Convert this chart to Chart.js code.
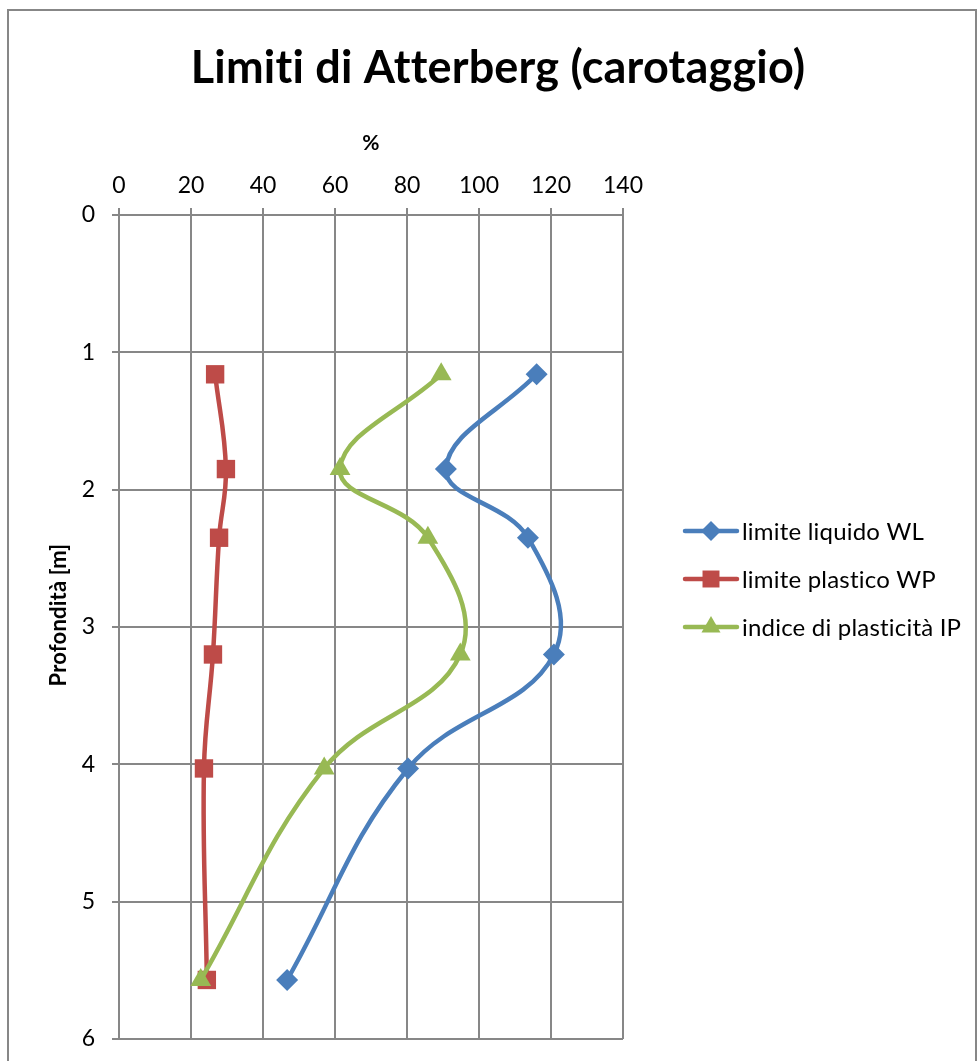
<!DOCTYPE html>
<html>
<head>
<meta charset="utf-8">
<script src="https://cdn.jsdelivr.net/npm/chart.js@4"></script>
<style>
  html, body { margin: 0; padding: 0; background: #fff; }
  #wrap { width: 978px; height: 1061px; position: relative; }
</style>
</head>
<body>
<div id="wrap"><canvas id="atterberg"></canvas></div>
<script>
'use strict';

// profondita dei campioni [m]
var depths = [1.16, 1.85, 2.35, 3.2, 4.03, 5.57];
// valori in %
var wl = [116, 90.8, 113.6, 120.8, 80.3, 46.7];
var wp = [26.7, 29.7, 27.8, 26.1, 23.6, 24.4];
var ip = [89.5, 61.4, 85.8, 94.8, 57.0, 22.7];

var seriesNames = ['limite liquido WL', 'limite plastico WP', 'indice di plasticità IP'];
var seriesColors = ['#4A7EBB', '#BE4B48', '#98B954'];
var seriesMarkers = ['rectRot', 'rect', 'triangle'];
var markerSizes = [11, 13, 12];

var xTicks = [0, 20, 40, 60, 80, 100, 120, 140];
var yTicks = [0, 1, 2, 3, 4, 5, 6];

var FONT = 'Lato, "Open Sans", sans-serif';
var GRID = '#878787';

function toPoints(vals) {
  return vals.map(function (v, i) { return { x: v, y: depths[i] }; });
}

var allSeries = [wl, wp, ip];
var datasets = allSeries.map(function (vals, i) {
  return {
    label: seriesNames[i],
    data: toPoints(vals),
    showLine: true,
    tension: 0.4,
    borderColor: seriesColors[i],
    backgroundColor: seriesColors[i],
    borderWidth: 4.5,
    pointStyle: seriesMarkers[i],
    pointRadius: markerSizes[i],
    pointBorderWidth: 0,
    order: 3 - i
  };
});

// titoli e legenda disegnati a mano, come in Excel
var extras = {
  id: 'extras',
  afterDraw: function (chart) {
    var ctx = chart.ctx;
    var area = chart.chartArea;
    ctx.save();
    // bordo esterno
    ctx.strokeStyle = GRID;
    ctx.lineWidth = 2;
    ctx.strokeRect(8, 10, 968, 1060);

    // niente legature (ti, tt) come in Calibri
    ctx.letterSpacing = '0.2px';
    ctx.fillStyle = '#000';
    ctx.textAlign = 'center';
    ctx.textBaseline = 'alphabetic';
    ctx.font = 'bold 45px ' + FONT;
    ctx.fillText('Limiti di Atterberg (carotaggio)', 498, 83);

    ctx.textBaseline = 'middle';
    ctx.font = 'bold 21px ' + FONT;
    ctx.fillText('%', (area.left + area.right) / 2, 143);

    ctx.save();
    ctx.translate(59, 615);
    ctx.rotate(-Math.PI / 2);
    ctx.font = 'bold 22px ' + FONT;
    ctx.fillText('Profondità [m]', 0, 0);
    ctx.restore();

    // legenda
    ctx.textAlign = 'left';
    ctx.font = '24px ' + FONT;
    var ys = [531, 579, 627];
    for (var i = 0; i < 3; i++) {
      var y = ys[i];
      ctx.strokeStyle = seriesColors[i];
      ctx.lineWidth = 4.5;
      ctx.lineCap = 'round';
      ctx.beginPath();
      ctx.moveTo(685, y);
      ctx.lineTo(737, y);
      ctx.stroke();
      ctx.fillStyle = seriesColors[i];
      Chart.helpers.drawPoint(ctx, {
        pointStyle: seriesMarkers[i],
        radius: markerSizes[i] - 1,
        rotation: 0,
        borderWidth: 0
      }, 711, y);
      ctx.fillStyle = '#000';
      ctx.fillText(seriesNames[i], 742, y + 1);
    }
    ctx.restore();
  }
};

new Chart(document.getElementById('atterberg').getContext('2d'), {
  type: 'scatter',
  data: { datasets: datasets },
  options: {
    responsive: true,
    maintainAspectRatio: false,
    animation: false,
    layout: { padding: { left: 0, top: 0, right: 355, bottom: 22 } },
    plugins: {
      legend: { display: false },
      tooltip: { enabled: false },
      title: { display: false }
    },
    scales: {
      x: {
        type: 'linear',
        position: 'top',
        min: 0,
        max: 140,
        afterBuildTicks: function (scale) {
          scale.ticks = xTicks.map(function (v) { return { value: v }; });
        },
        afterFit: function (scale) {
          scale.height = 215;
          scale.paddingLeft = 0;
          scale.paddingRight = 0;
        },
        grid: { color: GRID, lineWidth: 2, tickLength: 7, drawTicks: true },
        border: { color: GRID, width: 2 },
        ticks: { color: '#000', font: { family: FONT, size: 23 }, padding: 9 }
      },
      y: {
        type: 'linear',
        reverse: true,
        min: 0,
        max: 6,
        afterBuildTicks: function (scale) {
          scale.ticks = yTicks.map(function (v) { return { value: v }; });
        },
        afterFit: function (scale) {
          scale.width = 119;
          scale.paddingTop = 0;
          scale.paddingBottom = 0;
        },
        grid: { color: GRID, lineWidth: 2, tickLength: 7 },
        border: { color: GRID, width: 2 },
        ticks: { color: '#000', font: { family: FONT, size: 23 }, padding: 17 }
      }
    }
  },
  plugins: [extras]
});
</script>
</body>
</html>
